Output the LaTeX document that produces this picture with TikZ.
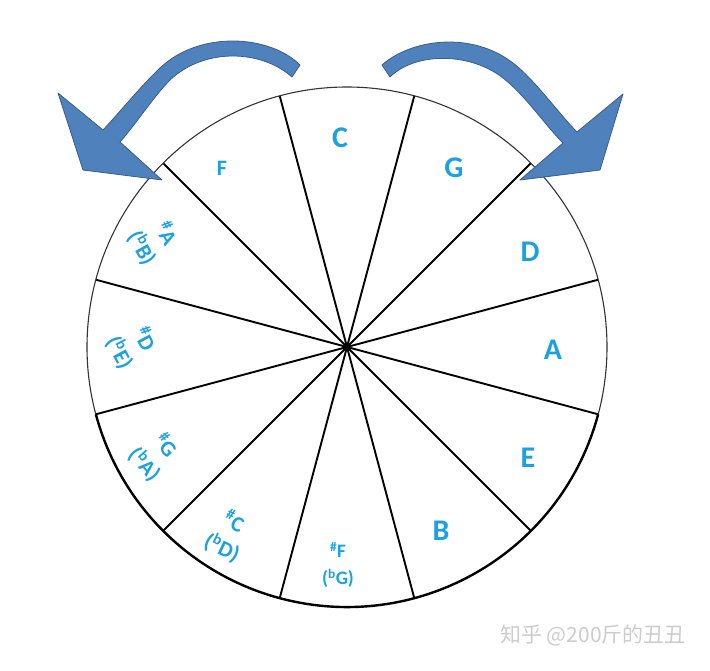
\documentclass[tikz,border=0pt]{standalone}
\usepackage{fontspec}
\setmainfont{Carlito}
\newfontfamily\cjkfont{Noto Sans CJK SC}
\definecolor{notecol}{RGB}{27,161,226}
\definecolor{arrowfill}{RGB}{79,129,189}
\definecolor{arrowline}{RGB}{56,93,138}

\begin{document}
\begin{tikzpicture}[x = 1pt, y = -1pt]
\tikzstyle{BigNote}=[text = notecol, inner sep = 0pt,
                     font = \fontsize{30}{30}\selectfont\bfseries]
\tikzstyle{SmallNote}=[text = notecol, inner sep = 0pt, align = center,
                       font = \fontsize{22}{28}\selectfont\bfseries]
\tikzstyle{BendArrow}=[fill = arrowfill, draw = arrowline,
                       line width = 0.8pt, line join = round]

\useasboundingbox (0,0) rectangle (710,670);
\coordinate (O) at (347,347);

% wheel
\foreach \a in {15,45,...,345}
  \draw[line width = 1.9pt] (O) -- ++(\a:260);
\draw[line width = 1.1pt, black!80] (O) circle (260);
\draw[line width = 2.4pt] ([shift = {(15:260)}]O) arc[start angle = 15, end angle = 165, radius = 260];

% names of the keys
\node[BigNote] (C) at (340,138) {C};
\node[BigNote] (G) at (454,168) {G};
\node[BigNote] (D) at (530,252) {D};
\node[BigNote] (A) at (553,350) {A};
\node[BigNote] (E) at (528,458) {E};
\node[BigNote] (B) at (441,531) {B};
\node[BigNote, font = \fontsize{22}{22}\selectfont\bfseries] (F) at (222,168) {F};
\node[SmallNote, rotate = -60] (Ais) at (154,241) {\textsuperscript{\#}A\\(\textsuperscript{b}B)};
\node[SmallNote, rotate = -62] (Dis) at (132,346) {\textsuperscript{\#}D\\(\textsuperscript{b}E)};
\node[SmallNote, rotate = -48] (Gis) at (155,455) {\textsuperscript{\#}G\\(\textsuperscript{b}A)};
\node[SmallNote, rotate = -25] (Cis) at (228,535) {\textsuperscript{\#}C\\(\textsuperscript{b}D)};
\node[SmallNote, font = \fontsize{19}{27}\selectfont\bfseries] (Fis) at (338,565) {\textsuperscript{\#}F\\(\textsuperscript{b}G)};

% bent arrows
\draw[BendArrow] (300,65) .. controls (270,35) and (200,30) .. (160,68)
  .. controls (140,87) and (120,112) .. (103,130)
  -- (58,93) -- (83,170) -- (162,180) -- (120,142)
  .. controls (135,125) and (155,95) .. (170,80)
  .. controls (205,47) and (262,50) .. (292,77) -- cycle;
\draw[BendArrow] (382,65) .. controls (410,40) and (470,30) .. (513,63)
  .. controls (535,80) and (560,115) .. (577,132)
  -- (623,94) -- (600,170) -- (520,180) -- (563,143)
  .. controls (545,125) and (525,95) .. (503,78)
  .. controls (470,52) and (415,52) .. (390,77) -- cycle;

\node[text = black!20, anchor = west, inner sep = 0pt,
      font = \cjkfont\fontsize{21}{21}\selectfont] (mark) at (500,635) {知乎 @200斤的丑丑};
\end{tikzpicture}
\end{document}
